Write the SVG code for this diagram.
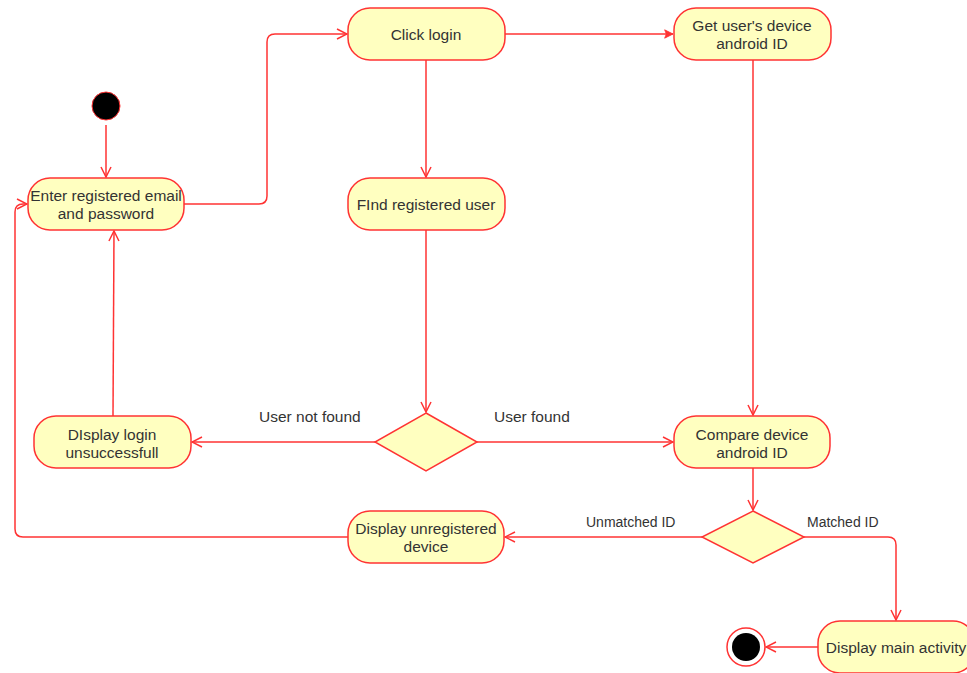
<svg xmlns="http://www.w3.org/2000/svg" width="967" height="673" viewBox="0 0 967 673">
  <style>
    .node { fill: #ffffc0; stroke: #ff3333; stroke-width: 1.5; }
    .lbl { font-family: "Liberation Sans", Arial, sans-serif; font-size: 15.5px; fill: #333333; text-anchor: middle; dominant-baseline: central; }
    .elbl { font-family: "Liberation Sans", Arial, sans-serif; font-size: 15.5px; fill: #333333; dominant-baseline: central; }
    .elbl-s { font-family: "Liberation Sans", Arial, sans-serif; font-size: 14px; fill: #333333; dominant-baseline: central; }
    .edge { fill: none; stroke: #ff3333; stroke-width: 1.5; }
  </style>
  <defs>
    <marker id="open" viewBox="0 0 12 12" refX="11" refY="6" markerWidth="12" markerHeight="12" markerUnits="userSpaceOnUse" orient="auto">
      <path d="M1,1 L11,6 L1,11" fill="none" stroke="#ff3333" stroke-width="1.5"/>
    </marker>
    <marker id="filled" viewBox="0 0 12 12" refX="11" refY="6" markerWidth="10" markerHeight="10" markerUnits="userSpaceOnUse" orient="auto">
      <path d="M1,1 L11,6 L1,11 L3,6 Z" fill="#ff3333" stroke="#ff3333" stroke-width="1"/>
    </marker>
  </defs>
  <rect width="967" height="673" fill="#ffffff"/>

  <g id="connectors">
    <line class="edge" x1="106" y1="125" x2="106" y2="177" marker-end="url(#open)"/>
    <path class="edge" d="M184,204 H259 Q267,204 267,196 V42 Q267,34 275,34 H347" marker-end="url(#open)"/>
    <line class="edge" x1="505" y1="34" x2="673" y2="34" marker-end="url(#filled)"/>
    <line class="edge" x1="426" y1="60" x2="426" y2="177" marker-end="url(#open)"/>
    <line class="edge" x1="426" y1="230" x2="426" y2="412" marker-end="url(#open)"/>
    <line class="edge" x1="753" y1="60" x2="753" y2="415" marker-end="url(#open)"/>
    <line class="edge" x1="375" y1="442" x2="192" y2="442" marker-end="url(#open)"/>
    <line class="edge" x1="477" y1="442" x2="673" y2="442" marker-end="url(#open)"/>
    <line class="edge" x1="113" y1="416" x2="114" y2="231" marker-end="url(#open)"/>
    <line class="edge" x1="753" y1="468" x2="753" y2="510" marker-end="url(#open)"/>
    <line class="edge" x1="702" y1="537" x2="505" y2="537" marker-end="url(#open)"/>
    <path class="edge" d="M348,537 H23 Q15,537 15,529 V212 Q15,204 23,204 H27" marker-end="url(#open)"/>
    <path class="edge" d="M804,537 H888 Q896,537 896,545 V620" marker-end="url(#open)"/>
    <line class="edge" x1="818" y1="647" x2="766" y2="647" marker-end="url(#open)"/>
    <text class="elbl" x="259" y="416">User not found</text>
    <text class="elbl" x="494" y="416">User found</text>
    <text class="elbl-s" x="586" y="522">Unmatched ID</text>
    <text class="elbl-s" x="807" y="522">Matched ID</text>
  </g>

  <g id="start">
    <circle cx="106" cy="106" r="14" fill="#000000" stroke="#ff3333" stroke-width="1"/>
  </g>

  <g id="enter-credentials">
    <rect class="node" x="28" y="178" width="156" height="52" rx="22"/>
    <text class="lbl" x="106" y="195">Enter registered email</text>
    <text class="lbl" x="106" y="213">and password</text>
  </g>

  <g id="click-login">
    <rect class="node" x="348" y="8" width="157" height="52" rx="22"/>
    <text class="lbl" x="426" y="34">Click login</text>
  </g>

  <g id="get-device-id">
    <rect class="node" x="674" y="8" width="157" height="52" rx="22"/>
    <text class="lbl" x="752" y="25">Get user's device</text>
    <text class="lbl" x="752" y="43">android ID</text>
  </g>

  <g id="find-user">
    <rect class="node" x="348" y="178" width="157" height="52" rx="22"/>
    <text class="lbl" x="426" y="204">FInd registered user</text>
  </g>

  <g id="user-decision">
    <polygon class="node" points="426,413 477,442 426,471 375,442"/>
  </g>

  <g id="login-failed">
    <rect class="node" x="34" y="416" width="157" height="52" rx="22"/>
    <text class="lbl" x="112" y="434">DIsplay login</text>
    <text class="lbl" x="112" y="452">unsuccessfull</text>
  </g>

  <g id="compare-id">
    <rect class="node" x="674" y="416" width="156" height="52" rx="22"/>
    <text class="lbl" x="752" y="434">Compare device</text>
    <text class="lbl" x="752" y="452">android ID</text>
  </g>

  <g id="id-decision">
    <polygon class="node" points="753,511 804,537 753,563 702,537"/>
  </g>

  <g id="unregistered-device">
    <rect class="node" x="348" y="511" width="156" height="52" rx="22"/>
    <text class="lbl" x="426" y="528">Display unregistered</text>
    <text class="lbl" x="426" y="546">device</text>
  </g>

  <g id="main-activity">
    <rect class="node" x="818" y="621" width="157" height="52" rx="22"/>
    <text class="lbl" x="896" y="647">Display main activity</text>
  </g>

  <g id="end">
    <circle cx="746" cy="647" r="19" fill="#ffffff" stroke="#ff3333" stroke-width="1.5"/>
    <circle cx="746" cy="647" r="14" fill="#000000"/>
  </g>
</svg>
